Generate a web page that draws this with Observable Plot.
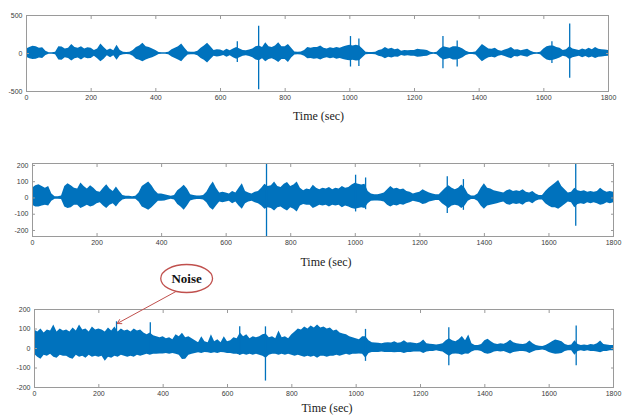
<!DOCTYPE html>
<html>
<head>
<meta charset="utf-8">
<script src="https://cdn.jsdelivr.net/npm/d3@7"></script>
<script src="https://cdn.jsdelivr.net/npm/@observablehq/plot@0.6"></script>
<style>
  html, body { margin: 0; padding: 0; background: white; }
  #wrap { position: relative; width: 622px; height: 416px; overflow: hidden; }
  #wrap > div { position: absolute; left: 0; }
</style>
</head>
<body>
<div id="wrap">
  <div id="p1" style="top:0px"></div>
  <div id="p2" style="top:130px"></div>
  <div id="p3" style="top:250px"></div>
</div>
<script>
const times = d3.range(0, 1801, 10);
const xTicks = [0, 200, 400, 600, 800, 1000, 1200, 1400, 1600, 1800];
const xLabel = "Time (sec)";
const y1Ticks = [-500, 0, 500];
const y2Ticks = [-200, -100, 0, 100, 200];
const y3Ticks = [-200, -100, 0, 100, 200];

const p1Hi = [
60,80,95,90,70,75,30,10,10,15,
90,85,60,70,120,80,70,90,60,75,
70,40,60,125,80,40,60,35,110,40,
15,12,15,40,80,100,135,90,80,60,
40,12,10,10,15,50,70,90,125,70,
20,15,15,30,70,100,135,90,40,50,
45,30,55,35,60,80,60,40,35,45,
60,90,100,80,140,90,80,100,140,90,
90,120,70,20,15,20,40,80,70,80,
80,100,70,60,75,65,80,70,85,100,
110,100,110,100,60,15,12,12,15,40,
50,80,55,70,50,60,30,40,35,40,
40,55,50,45,40,15,10,15,60,90,
80,70,90,90,80,60,30,12,12,20,
70,120,90,60,55,70,40,30,45,60,
80,45,50,35,45,55,30,12,10,15,
60,90,100,100,80,70,40,50,90,60,
50,40,60,45,70,50,80,55,50,45,40];
const p1Lo = [
-50,-70,-80,-75,-60,-65,-25,-10,-10,-15,
-85,-90,-55,-65,-100,-70,-60,-85,-55,-70,
-65,-35,-70,-110,-75,-30,-55,-30,-90,-30,
-15,-12,-15,-35,-75,-90,-110,-85,-70,-55,
-35,-12,-10,-10,-15,-45,-65,-85,-110,-60,
-20,-15,-15,-30,-65,-90,-125,-80,-35,-45,
-40,-25,-50,-30,-55,-75,-55,-35,-30,-40,
-55,-85,-95,-70,-110,-80,-70,-90,-120,-80,
-80,-120,-60,-20,-15,-20,-35,-70,-65,-75,
-70,-85,-65,-55,-70,-60,-75,-65,-80,-90,
-95,-90,-100,-95,-55,-15,-12,-12,-15,-35,
-45,-70,-50,-60,-45,-50,-25,-35,-30,-35,
-35,-50,-45,-40,-35,-15,-10,-15,-55,-85,
-75,-65,-85,-85,-75,-55,-25,-12,-12,-20,
-65,-110,-80,-55,-50,-60,-35,-25,-40,-55,
-70,-40,-45,-30,-40,-50,-25,-12,-10,-15,
-55,-85,-95,-90,-75,-60,-35,-45,-80,-55,
-45,-35,-55,-40,-60,-45,-65,-50,-45,-40,-35];
const p1SpikeT = [652, 718, 1002, 1028, 1288, 1332, 1625, 1680];
const p1SpikeHi = [155, 357, 223, 190, 223, 165, 155, 388];
const p1SpikeLo = [-120, -477, -178, -170, -200, -178, -133, -325];

const p2Hi = [
60,75,82,70,60,70,25,8,8,12,
70,88,75,60,55,92,70,55,75,60,
40,35,60,82,55,40,68,40,15,10,
10,8,10,30,70,85,98,75,45,25,
25,20,15,10,15,45,60,78,55,20,
15,12,12,15,35,70,98,60,30,35,
30,25,40,30,60,88,40,30,25,35,
40,60,85,70,75,98,70,65,85,95,
70,80,98,60,45,55,50,78,60,50,
60,55,65,50,60,55,70,60,65,80,
90,85,80,85,40,25,20,20,25,30,
50,70,55,60,50,55,40,35,25,30,
35,50,40,30,25,20,20,40,60,75,
60,50,60,80,60,25,12,12,25,60,
88,60,55,45,40,35,30,45,50,40,
45,40,50,35,30,40,25,15,15,40,
60,75,90,108,70,50,30,35,60,45,
40,45,35,40,35,40,60,45,35,40,35];
const p2Lo = [
-45,-55,-55,-50,-45,-50,-20,-8,-8,-10,
-55,-65,-60,-45,-45,-65,-55,-45,-55,-50,
-35,-30,-50,-65,-45,-35,-55,-30,-12,-8,
-8,-8,-8,-25,-55,-65,-75,-60,-40,-20,
-20,-18,-12,-8,-12,-40,-55,-76,-50,-18,
-12,-10,-10,-12,-30,-60,-76,-50,-25,-30,
-25,-20,-35,-25,-50,-70,-35,-25,-20,-30,
-35,-50,-70,-60,-65,-80,-60,-55,-70,-80,
-60,-70,-86,-50,-40,-45,-45,-65,-55,-45,
-50,-45,-55,-45,-50,-45,-60,-50,-55,-65,
-70,-65,-60,-65,-35,-20,-18,-18,-20,-25,
-45,-55,-45,-50,-40,-45,-35,-30,-20,-25,
-30,-40,-35,-25,-20,-15,-15,-35,-50,-65,
-50,-45,-50,-65,-50,-20,-10,-10,-20,-50,
-70,-50,-45,-40,-35,-30,-25,-40,-45,-35,
-40,-35,-45,-30,-25,-35,-20,-12,-12,-35,
-50,-60,-60,-70,-55,-40,-25,-30,-60,-40,
-35,-40,-30,-35,-30,-35,-45,-40,-30,-35,-30];
const p2SpikeT = [725, 1001, 1032, 1285, 1335, 1683];
const p2SpikeHi = [207, 140, 123, 130, 113, 221];
const p2SpikeLo = [-240, -86, -72, -96, -76, -174];

const p3Hi = [
95,85,100,80,95,90,120,85,100,90,
95,85,105,90,120,95,100,85,110,95,
100,95,85,105,90,110,85,100,90,95,
85,100,90,95,80,70,80,65,60,55,
60,50,55,45,70,60,78,55,60,50,
40,30,60,35,30,70,35,45,30,60,
35,40,55,50,80,60,70,50,60,55,
60,70,75,55,60,50,90,55,60,50,
70,85,100,95,110,100,115,105,120,105,
110,100,105,90,95,80,75,70,60,55,
50,45,60,60,40,30,28,27,25,28,
30,28,35,27,30,40,28,30,27,25,
30,44,25,22,20,18,20,25,40,50,
40,35,45,61,40,69,25,15,15,20,
40,47,35,25,20,25,22,30,42,30,
25,22,20,25,38,25,15,12,10,15,
25,35,44,40,35,20,15,18,40,20,
15,18,15,20,18,25,39,20,18,15,15];
const p3Lo = [
-30,-45,-55,-35,-40,-30,-45,-50,-35,-40,
-40,-50,-55,-35,-45,-40,-50,-35,-45,-40,
-45,-40,-66,-45,-50,-40,-45,-35,-40,-45,
-40,-45,-35,-40,-35,-30,-35,-30,-30,-28,
-28,-25,-30,-25,-30,-35,-57,-55,-35,-30,
-25,-22,-25,-20,-22,-25,-22,-25,-20,-22,
-25,-25,-30,-30,-35,-30,-35,-30,-35,-30,
-35,-40,-50,-35,-30,-30,-35,-30,-35,-30,
-35,-40,-35,-40,-45,-40,-45,-40,-50,-40,
-40,-45,-40,-40,-35,-40,-35,-30,-35,-30,
-30,-28,-30,-50,-25,-20,-20,-20,-18,-20,
-20,-20,-22,-20,-20,-25,-20,-20,-18,-18,
-18,-25,-18,-15,-15,-12,-15,-18,-30,-40,
-30,-28,-30,-35,-28,-30,-18,-12,-12,-15,
-25,-30,-25,-18,-15,-18,-15,-22,-28,-20,
-18,-15,-15,-18,-25,-18,-12,-10,-8,-12,
-20,-25,-29,-28,-25,-15,-12,-12,-35,-15,
-12,-15,-12,-15,-15,-18,-22,-15,-15,-12,-12];
const p3SpikeT = [255, 360, 638, 718, 1029, 1288, 1684];
const p3SpikeHi = [137, 132, 111, 111, 98, 106, 115];
const p3SpikeLo = [-40, -30, -35, -167, -66, -88, -88];

// annotation
const noteText = ["Noise"];
const noteAt = [{x: 473, y: 359}];
const noteArrow = [{x1: 445, y1: 297, x2: 257, y2: 128}];

// ---- drawing ----
const blue = "#0072BD";
const frameGray = "#9a9a9a";
const textGray = "#3a3a3a";
const red = "#c0504d";

const rows = (hi, lo) => times.map((t, i) => ({t, hi: hi[i], lo: lo[i]}));
const spikes = (T, H, L) => T.map((t, i) => ({t, hi: H[i], lo: L[i]}));

const ellipse = {
  draw(ctx, size) {
    const ry = Math.sqrt(size / Math.PI), rx = ry * 1.85, k = 0.5523;
    ctx.moveTo(rx, 0);
    ctx.bezierCurveTo(rx, k * ry, k * rx, ry, 0, ry);
    ctx.bezierCurveTo(-k * rx, ry, -rx, k * ry, -rx, 0);
    ctx.bezierCurveTo(-rx, -k * ry, -k * rx, -ry, 0, -ry);
    ctx.bezierCurveTo(k * rx, -ry, rx, -k * ry, rx, 0);
    ctx.closePath();
  }
};

function panel({data, spk, yDomain, yTicks, height, mt, mb, ml, mr, labelDy, labelDx, extra = []}) {
  return Plot.plot({
    width: 622, height,
    marginTop: mt, marginBottom: mb, marginLeft: ml, marginRight: mr,
    x: {domain: [0, 1800], axis: null},
    y: {domain: yDomain, axis: null},
    style: {background: "transparent", fontFamily: "Liberation Sans, Arial, sans-serif", overflow: "visible"},
    marks: [
      Plot.areaY(data, {x: "t", y1: "lo", y2: "hi", fill: blue, clip: true}),
      Plot.ruleX(spk, {x: "t", y1: "lo", y2: "hi", stroke: blue, strokeWidth: 1.3, clip: true}),
      Plot.frame({stroke: frameGray}),
      Plot.axisX({anchor: "bottom", ticks: xTicks, tickSize: -3, tickPadding: 6.5, fontSize: 7,
                  stroke: frameGray, fill: textGray, tickFormat: d => String(d), label: null}),
      Plot.axisX({anchor: "top", ticks: xTicks, tickSize: -3, stroke: frameGray, fill: "none", label: null}),
      Plot.axisY({anchor: "left", ticks: yTicks, tickSize: -3, tickPadding: 7, fontSize: 7,
                  stroke: frameGray, fill: textGray, tickFormat: d => String(d), label: null}),
      Plot.axisY({anchor: "right", ticks: yTicks, tickSize: -3, stroke: frameGray, fill: "none", label: null}),
      Plot.text([xLabel], {frameAnchor: "bottom", text: d => d, dy: labelDy, dx: labelDx, lineAnchor: "middle",
                  fontFamily: "Liberation Serif, Times New Roman, serif", fontSize: 12, fill: "#1a1a1a"}),
      ...extra
    ]
  });
}

document.getElementById("p1").append(panel({
  data: rows(p1Hi, p1Lo), spk: spikes(p1SpikeT, p1SpikeHi, p1SpikeLo),
  yDomain: [-500, 500], yTicks: y1Ticks, height: 130, mt: 15, mb: 39, ml: 26, mr: 14, labelDy: 25, labelDx: 1
}));

document.getElementById("p2").append(panel({
  data: rows(p2Hi, p2Lo), spk: spikes(p2SpikeT, p2SpikeHi, p2SpikeLo),
  yDomain: [-237, 212], yTicks: y2Ticks, height: 140, mt: 33, mb: 34, ml: 32, mr: 9, labelDy: 26, labelDx: 3
}));

document.getElementById("p3").append(panel({
  data: rows(p3Hi, p3Lo), spk: spikes(p3SpikeT, p3SpikeHi, p3SpikeLo),
  yDomain: [-200, 200], yTicks: y3Ticks, height: 166, mt: 59, mb: 29, ml: 34, mr: 9, labelDy: 21, labelDx: 3,
  extra: [
    Plot.arrow(noteArrow, {x1: "x1", y1: "y1", x2: "x2", y2: "y2", stroke: red, strokeWidth: 1, headLength: 7}),
    Plot.dot(noteAt, {x: "x", y: "y", r: 14, symbol: ellipse, stroke: red, strokeWidth: 1.3, fill: "white"}),
    Plot.text(noteText, {x: () => noteAt[0].x, y: () => noteAt[0].y, text: d => d, fontFamily: "Liberation Serif, Times New Roman, serif",
                         fontWeight: "bold", fontSize: 13, fill: "#111"})
  ]
}));
</script>
</body>
</html>
